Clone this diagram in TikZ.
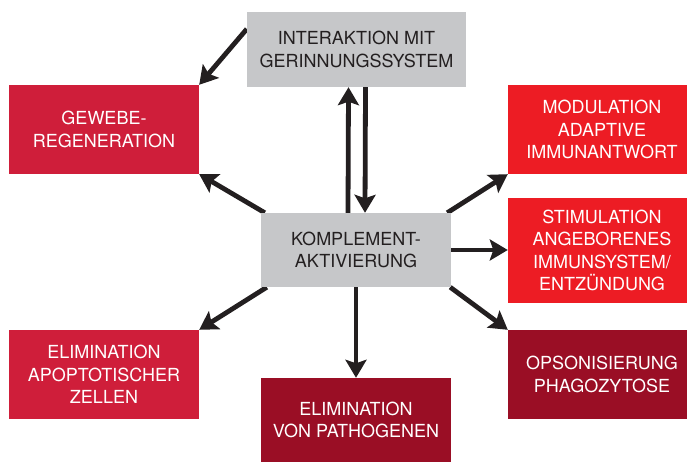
\documentclass[tikz,border=0pt]{standalone}
\usepackage{fontspec}
\setmainfont{TeX Gyre Heros}
\usetikzlibrary{arrows.meta}
\definecolor{boxgray}{HTML}{C6C7C9}
\definecolor{crimson}{HTML}{CF1E3A}
\definecolor{brightred}{HTML}{ED1C24}
\definecolor{darkred}{HTML}{9A0E25}
\definecolor{txtdark}{HTML}{231F20}
\definecolor{arrowc}{HTML}{231F20}
\pgfdeclarelayer{bg}
\pgfsetlayers{bg,main}
\begin{document}
\begin{tikzpicture}[x=1bp,y=-1bp,
  box/.style={rectangle, inner sep=0pt, align=center, text=white,
    font=\fontsize{18bp}{22.5bp}\selectfont},
  graybox/.style={box, fill=boxgray, text=txtdark},
  crimbox/.style={box, fill=crimson},
  redbox/.style={box, fill=brightred},
  darkbox/.style={box, fill=darkred},
  arr/.style={draw=arrowc, line width=4.8bp, -{Stealth[length=18bp,width=21bp,inset=3.5bp]}}
]
\useasboundingbox (0,0) rectangle (687,462);
\clip (0,0) rectangle (687,462);
\node[graybox, minimum width=219bp, minimum height=75bp] (top) at (356.5,49.5) {INTERAKTION MIT\\GERINNUNGSSYSTEM};
\node[crimbox, minimum width=190bp, minimum height=89bp] (gew) at (104,129.5) {GEWEBE-\\REGENERATION};
\node[redbox, minimum width=188bp, minimum height=89bp] (mod) at (602,129.5) {MODULATION\\ADAPTIVE\\IMMUNANTWORT};
\node[redbox, minimum width=188bp, minimum height=105bp] (stim) at (602,250.5) {STIMULATION\\ANGEBORENES\\IMMUNSYSTEM/\\ENTZÜNDUNG};
\node[graybox, minimum width=190bp, minimum height=74bp] (kom) at (356,250) {KOMPLEMENT-\\AKTIVIERUNG};
\node[crimbox, minimum width=190bp, minimum height=89bp] (apo) at (104,374.5) {ELIMINATION\\APOPTOTISCHER\\ZELLEN};
\node[darkbox, minimum width=188bp, minimum height=89bp] (ops) at (602,374.5) {OPSONISIERUNG\\PHAGOZYTOSE};
\node[darkbox, minimum width=190bp, minimum height=84bp] (pat) at (356,420) {ELIMINATION\\VON PATHOGENEN};
\begin{pgfonlayer}{bg}
\draw[arr] ([yshift=20.5bp]top.west) -- (gew.north east);
\draw[arr] ([xshift=4bp]kom.north west) -- (gew.south east);
\draw[arr] ([xshift=6bp]kom.south west) -- (apo.north east);
\draw[arr] ([xshift=-8bp]kom.north) -- ([xshift=-8bp]top.south);
\draw[arr] ([xshift=9bp]top.south) -- ([xshift=9bp]kom.north);
\draw[arr] ([xshift=-4bp]kom.north east) -- (mod.south west);
\draw[arr] (kom.east) -- (kom.east -| stim.west);
\draw[arr] ([xshift=-1bp]kom.south east) -- (ops.north west);
\draw[arr] (kom.south) -- (pat.north);
\end{pgfonlayer}
\end{tikzpicture}
\end{document}
